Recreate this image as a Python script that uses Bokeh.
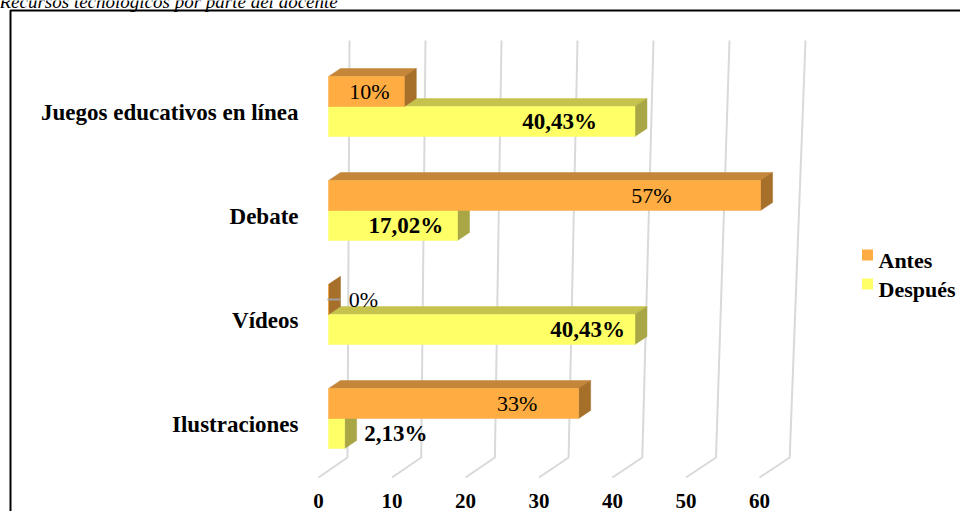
from bokeh.plotting import figure
from bokeh.models import Range1d
from bokeh.core.properties import value
from bokeh.embed import file_html
from bokeh.resources import INLINE

# ---------------- data ----------------
TITLE = "Recursos tecnológicos por parte del docente"
CATEGORIES = ["Juegos educativos en línea", "Debate", "Vídeos", "Ilustraciones"]
SERIES = ["Antes", "Después"]
ANTES = [10, 57, 0, 33]
DESPUES = [40.43, 17.02, 40.43, 2.13]
ANTES_LABELS = ["10%", "57%", "0%", "33%"]
DESPUES_LABELS = ["40,43%", "17,02%", "40,43%", "2,13%"]
TICKS = [0, 10, 20, 30, 40, 50, 60]
TICK_LABELS = ["0", "10", "20", "30", "40", "50", "60"]

# ---------------- layout / style ----------------
W, H = 960, 511
X0 = 328      # pixel of value 0 on the bars' front face
K = 7.58      # pixels per value unit
YB = 418      # pixel of the lowest category's centre line
S = 104       # pixels per category
BAR_H = 30 / S
DDX = 12 / K  # 3-D depth
DDY = 8 / S
ANTES_LABEL_X = [5.4, 42.6, 4.6, 24.9]
DESPUES_LABEL_X = [30.5, 10.2, 34.2, 8.9]
FONT = value("Liberation Serif")

ORANGE = ("#FFAD42", "#C4873A", "#A66F2A")   # front, top, side
YELLOW = ("#FFFF66", "#C6C24E", "#A9A646")


def xd(px):
    return (px - X0) / K


def yd(py):
    return (YB - py) / S


p = figure(width=W, height=H, x_range=Range1d(xd(0), xd(W)), y_range=Range1d(yd(H), yd(0)),
           output_backend="svg", toolbar_location=None, min_border=0,
           x_axis_location=None, y_axis_location=None)
p.xgrid.visible = False
p.ygrid.visible = False
p.outline_line_color = None
p.background_fill_color = "white"
p.border_fill_color = "white"

# outer frame (cropped picture box)
p.line([xd(10), xd(10), xd(1000)], [yd(560), yd(10), yd(10)], line_color="black", line_width=2)

# title (cut off at top, as in the source picture)
p.text(x=[xd(-1)], y=[yd(0.5)], text=[TITLE], text_font=FONT, text_font_style="italic",
       text_font_size="19px", text_baseline="alphabetic", text_align="left", text_color="black")

# 3-D grid: back wall verticals + floor diagonals
gxs = [[xd(349 + 7.6 * t), xd(347 + 7.37 * t), xd(318 + 7.35 * t)] for t in TICKS]
gys = [[yd(40), yd(457), yd(477)] for _ in TICKS]
p.multi_line(gxs, gys, line_color="#D9D9D9", line_width=2)


def faces(vals, above):
    fr, tp, sd = ([], []), ([], []), ([], [])
    n = len(vals)
    for i, v in enumerate(vals):
        c = n - 1 - i
        y0, y1 = (c, c + BAR_H) if above else (c - BAR_H, c)
        fr[0].append([0, v, v, 0]); fr[1].append([y0, y0, y1, y1])
        tp[0].append([0, v, v + DDX, DDX]); tp[1].append([y1, y1, y1 + DDY, y1 + DDY])
        sd[0].append([v, v + DDX, v + DDX, v]); sd[1].append([y0, y0 + DDY, y1 + DDY, y1])
    return fr, tp, sd


for vals, above, cols in ((DESPUES, False, YELLOW), (ANTES, True, ORANGE)):
    fr, tp, sd = faces(vals, above)
    p.patches(tp[0], tp[1], fill_color=cols[1], line_color=cols[1], line_width=0.5)
    p.patches(sd[0], sd[1], fill_color=cols[2], line_color=cols[2], line_width=0.5)
    p.patches(fr[0], fr[1], fill_color=cols[0], line_color=cols[0], line_width=0.5)

n = len(CATEGORIES)
centres = [n - 1 - i for i in range(n)]

# leader line for labels of zero-length bars
for v, c in zip(ANTES, centres):
    if v == 0:
        yl = c + BAR_H / 2
        p.segment(x0=[xd(X0 - 1)], y0=[yl], x1=[v + DDX], y1=[yl], line_color="#A0A0A0", line_width=2)

# value labels
p.text(x=ANTES_LABEL_X, y=[c + BAR_H / 2 for c in centres], text=ANTES_LABELS, text_font=FONT,
       text_font_size="22px", text_align="center", text_baseline="middle", text_color="black")
p.text(x=DESPUES_LABEL_X, y=[c - BAR_H / 2 for c in centres], text=DESPUES_LABELS, text_font=FONT,
       text_font_style="bold", text_font_size="23px", text_align="center", text_baseline="middle",
       text_color="black")

# category labels
p.text(x=[xd(298)] * n, y=[c - 6 / S for c in centres], text=CATEGORIES, text_font=FONT,
       text_font_style="bold", text_font_size="23px", text_align="right", text_baseline="middle",
       text_color="black")

# value axis labels (front edge of floor)
p.text(x=[xd(318 + 7.35 * t) for t in TICKS], y=[yd(500)] * len(TICKS), text=TICK_LABELS,
       text_font=FONT, text_font_style="bold", text_font_size="21px", text_align="center",
       text_baseline="middle", text_color="black")

# legend
p.scatter(x=[xd(867)] * 2, y=[yd(254.5), yd(283.5)], marker="square", size=11,
          fill_color=[ORANGE[0], YELLOW[0]], line_color=None)
p.text(x=[xd(878)] * 2, y=[yd(260), yd(289)], text=SERIES, text_font=FONT, text_font_style="bold",
       text_font_size="22px", text_align="left", text_baseline="alphabetic", text_color="black")

open("out.html", "w").write(file_html(p, INLINE))
